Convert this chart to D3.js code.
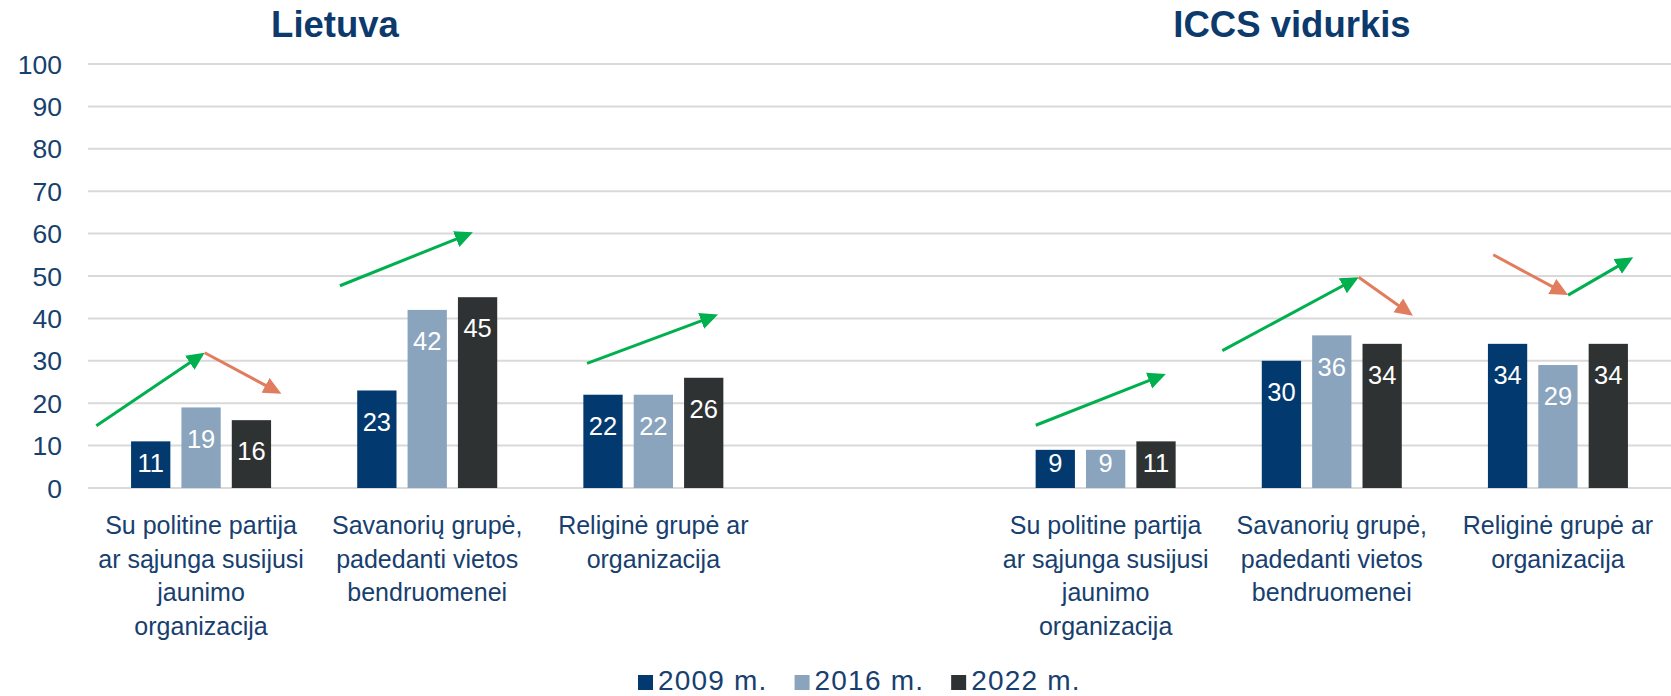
<!DOCTYPE html>
<html>
<head>
<meta charset="utf-8">
<script src="https://cdn.jsdelivr.net/npm/d3@7"></script>
<style>
  body { margin: 0; background: #fff; }
  svg { display: block; font-family: "Liberation Sans", Arial, sans-serif; }
</style>
</head>
<body>
<svg id="chart"></svg>
<script>
var width = 1671;
var height = 696;
var margin = { top: 64, right: 0, bottom: 208, left: 88 };

// data
var years = ["2009 m.", "2016 m.", "2022 m."];
var slots = ["L1", "L2", "L3", "gap", "I1", "I2", "I3"];
var categoryLines = [
  ["Su politine partija", "ar sąjunga susijusi", "jaunimo", "organizacija"],
  ["Savanorių grupė,", "padedanti vietos", "bendruomenei"],
  ["Religinė grupė ar", "organizacija"]
];
var lietuva2009 = [11, 23, 22];
var lietuva2016 = [19, 42, 22];
var lietuva2022 = [16, 45, 26];
var iccs2009 = [9, 30, 34];
var iccs2016 = [9, 36, 29];
var iccs2022 = [11, 34, 34];
var yTicks = [0, 10, 20, 30, 40, 50, 60, 70, 80, 90, 100];
var titles = ["Lietuva", "ICCS vidurkis"];

// trend arrows: [slot position, value] pairs
var arrowFrom = [[0.037, 14.7], [0.516, 31.9], [1.114, 47.7], [2.207, 29.4], [4.191, 14.8], [5.016, 32.4], [5.619, 49.7], [6.214, 55.0], [6.545, 45.5]];
var arrowTo   = [[0.516, 31.9], [0.855, 22.2], [1.702, 60.3], [2.786, 40.9], [4.766, 26.9], [5.619, 49.7], [5.859, 40.6], [6.545, 45.5], [6.833, 54.4]];
var arrowUp   = [true, false, true, true, true, true, false, false, true];

var colors = ["#023a70", "#8aa4be", "#2f3232"];
var textColor = "#17406f";

var rows = [];
[[lietuva2009, lietuva2016, lietuva2022], [iccs2009, iccs2016, iccs2022]].forEach(function(panel, p) {
  for (var c = 0; c < 3; c++) {
    years.forEach(function(y, k) {
      rows.push({ slot: slots[p * 4 + c], year: y, value: panel[k][c], k: k });
    });
  }
});

var svg = d3.select("#chart").attr("width", width).attr("height", height);

var x = d3.scaleBand().domain(slots).range([margin.left, width - margin.right]);
var xPos = d3.scaleLinear().domain([0, slots.length]).range([margin.left, width - margin.right]);
var xInner = d3.scaleBand().domain(years)
  .range([x.bandwidth() / 2 - 70, x.bandwidth() / 2 + 70])
  .paddingInner(0.22);
var yScale = d3.scaleLinear().domain([0, 100]).range([height - margin.bottom, margin.top]);

// grid
svg.append("g").selectAll("line").data(yTicks).enter().append("line")
  .attr("x1", margin.left).attr("x2", width - margin.right)
  .attr("y1", function(d) { return yScale(d); })
  .attr("y2", function(d) { return yScale(d); })
  .attr("stroke", "#d9d9d9").attr("stroke-width", 2);

svg.append("g").selectAll("text").data(yTicks).enter().append("text")
  .attr("x", 62).attr("y", function(d) { return yScale(d); })
  .attr("dy", "0.36em").attr("text-anchor", "end")
  .attr("fill", textColor).style("font-size", "26.5px")
  .text(function(d) { return d; });

// bars
var bars = svg.append("g").selectAll("g").data(rows).enter().append("g");
bars.append("rect")
  .attr("x", function(d) { return x(d.slot) + xInner(d.year); })
  .attr("width", xInner.bandwidth())
  .attr("y", function(d) { return yScale(d.value); })
  .attr("height", function(d) { return yScale(0) - yScale(d.value); })
  .attr("fill", function(d) { return colors[d.k]; });

bars.append("text")
  .attr("x", function(d) { return x(d.slot) + xInner(d.year) + xInner.bandwidth() / 2; })
  .attr("y", function(d) {
    var h = yScale(0) - yScale(d.value);
    return yScale(d.value) + Math.min(31, h - 25);
  })
  .attr("dy", "0.36em").attr("text-anchor", "middle")
  .attr("fill", "#fff").style("font-size", "25.5px")
  .text(function(d) { return d.value; });

// category labels
var catSlots = ["L1", "L2", "L3", "I1", "I2", "I3"];
catSlots.forEach(function(s, i) {
  var t = svg.append("text")
    .attr("x", x(s) + x.bandwidth() / 2)
    .attr("y", 525)
    .attr("text-anchor", "middle")
    .attr("fill", textColor).style("font-size", "25px");
  categoryLines[i % 3].forEach(function(line, j) {
    t.append("tspan").attr("x", x(s) + x.bandwidth() / 2)
      .attr("y", 525 + j * 33.5).attr("dy", "0.36em").text(line);
  });
});

// titles
svg.selectAll(".title").data(titles).enter().append("text")
  .attr("class", "title")
  .attr("x", function(d, i) { return i === 0 ? 335 : 1292; })
  .attr("y", 37)
  .attr("text-anchor", "middle")
  .attr("fill", "#0c3a6c").style("font-size", "36.5px").style("font-weight", "bold")
  .text(function(d) { return d; });

// arrows
var defs = svg.append("defs");
[["up", "#00b04f"], ["down", "#e27c5e"]].forEach(function(m) {
  defs.append("marker").attr("id", "head-" + m[0])
    .attr("markerUnits", "userSpaceOnUse")
    .attr("markerWidth", 20).attr("markerHeight", 18)
    .attr("refX", 8).attr("refY", 8.5).attr("orient", "auto")
    .append("path").attr("d", "M0,0 L18,8.5 L0,17 Z").attr("fill", m[1]);
});
arrowFrom.forEach(function(a, i) {
  var x1 = xPos(a[0]), y1 = yScale(a[1]);
  var x2 = xPos(arrowTo[i][0]), y2 = yScale(arrowTo[i][1]);
  var len = Math.sqrt((x2 - x1) * (x2 - x1) + (y2 - y1) * (y2 - y1));
  var f = (len - 10) / len;
  svg.append("path")
    .attr("d", "M" + x1 + "," + y1 + "L" + (x1 + (x2 - x1) * f) + "," + (y1 + (y2 - y1) * f))
    .attr("stroke", arrowUp[i] ? "#00b04f" : "#e27c5e")
    .attr("stroke-width", 3).attr("fill", "none")
    .attr("marker-end", "url(#head-" + (arrowUp[i] ? "up" : "down") + ")");
});

// legend
var legend = svg.append("g").attr("transform", "translate(638,682)");
var lx = 0;
years.forEach(function(y, k) {
  legend.append("rect").attr("x", lx).attr("y", -7).attr("width", 15).attr("height", 15)
    .attr("fill", colors[k]);
  var t = legend.append("text").attr("x", lx + 20).attr("y", 8)
    .attr("fill", textColor).style("font-size", "28px").style("letter-spacing", "1.2px").text(y);
  lx += 20 + t.node().getComputedTextLength() + 27;
});
</script>
</body>
</html>
